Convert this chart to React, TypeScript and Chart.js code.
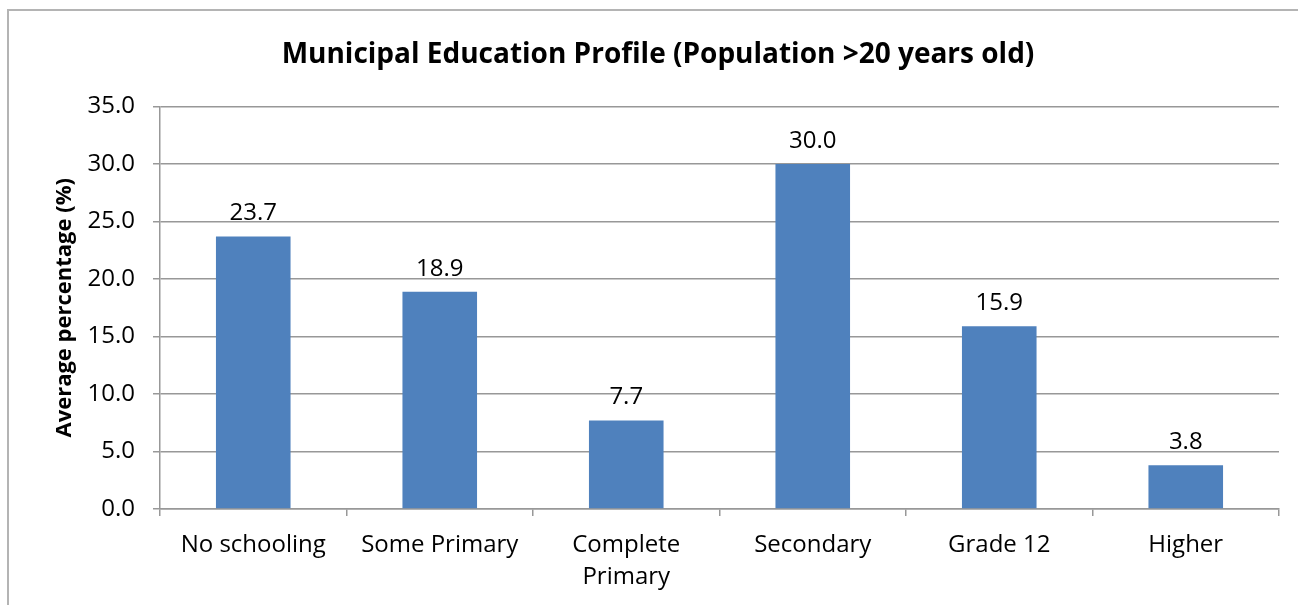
import React, { useEffect, useRef } from "react";
import { Chart, registerables } from "chart.js";

Chart.register(...registerables);

const categories: (string | string[])[] = [
  "No schooling",
  "Some Primary",
  ["Complete", "Primary"],
  "Secondary",
  "Grade 12",
  "Higher",
];
const values: number[] = [23.7, 18.9, 7.7, 30.0, 15.9, 3.8];
const yTicks: number[] = [0, 5, 10, 15, 20, 25, 30, 35];

const titleText = "Municipal Education Profile (Population >20 years old)";
const yTitleText = "Average percentage (%)";

const FONT = "'Open Sans', 'DejaVu Sans', sans-serif";
const W = 1316;
const H = 605;

export default function App() {
  const ref = useRef<HTMLCanvasElement | null>(null);

  useEffect(() => {
    if (!ref.current) return;

    const framePlugin = {
      id: "frame",
      beforeDraw(chart: any) {
        const c = chart.ctx;
        c.save();
        c.fillStyle = "#ffffff";
        c.fillRect(0, 0, chart.width, chart.height);
        c.strokeStyle = "#b4b4b4";
        c.lineWidth = 2;
        c.beginPath();
        c.moveTo(8, H);
        c.lineTo(8, 10);
        c.lineTo(W, 10);
        c.stroke();
        c.restore();
      },
    };

    const labelPlugin = {
      id: "valueLabels",
      afterDatasetsDraw(chart: any) {
        const c = chart.ctx;
        const meta = chart.getDatasetMeta(0);
        c.save();
        c.font = `24px ${FONT}`;
        c.fillStyle = "#000";
        c.textAlign = "center";
        c.textBaseline = "middle";
        meta.data.forEach((bar: any, i: number) => {
          c.fillText(values[i].toFixed(1), bar.x, bar.y - 23);
        });
        c.restore();
      },
    };

    const chart = new Chart(ref.current, {
      type: "bar",
      data: {
        labels: categories,
        datasets: [
          {
            data: values,
            backgroundColor: "#4f81bd",
            borderWidth: 0,
            barPercentage: 0.4,
            categoryPercentage: 1,
          },
        ],
      },
      options: {
        responsive: false,
        animation: false,
        layout: { padding: { left: 37, right: 37, top: 0, bottom: 0 } },
        plugins: {
          legend: { display: false },
          tooltip: { enabled: false },
          title: {
            display: true,
            text: titleText,
            color: "#000",
            font: { family: FONT, size: 28, weight: "bold" },
            padding: { top: 38, bottom: 35 },
          },
        },
        scales: {
          x: {
            offset: true,
            afterFit(scale: any) {
              scale.height = 96;
            },
            grid: {
              offset: true,
              drawOnChartArea: false,
              drawTicks: true,
              tickLength: 7,
              color: "#989898",
              lineWidth: 1.5,
            },
            border: { display: true, color: "#989898", width: 1.5 },
            ticks: {
              color: "#000",
              font: { family: FONT, size: 24, lineHeight: 1.35 },
              padding: 13,
              maxRotation: 0,
              autoSkip: false,
            },
          },
          y: {
            min: 0,
            max: 35,
            afterFit(scale: any) {
              scale.width = 123;
            },
            afterBuildTicks(scale: any) {
              scale.ticks = yTicks.map((v) => ({ value: v }));
            },
            grid: {
              color: "#989898",
              lineWidth: 1.5,
              drawTicks: true,
              tickLength: 7,
            },
            border: { display: true, color: "#989898", width: 1.5 },
            ticks: {
              color: "#000",
              font: { family: FONT, size: 24 },
              padding: 18,
              callback: (v: any) => Number(v).toFixed(1),
            },
            title: {
              display: true,
              text: yTitleText,
              color: "#000",
              font: { family: FONT, size: 22, weight: "bold" },
              padding: { top: 15, bottom: 0 },
            },
          },
        },
      },
      plugins: [framePlugin, labelPlugin],
    });

    return () => chart.destroy();
  }, []);

  return (
    <div
      style={{
        position: "fixed",
        left: 0,
        top: 0,
        width: 1298,
        height: 605,
        overflow: "hidden",
        background: "#fff",
      }}
    >
      <canvas
        ref={ref}
        width={W}
        height={H}
        style={{ width: W, height: H, display: "block" }}
      />
    </div>
  );
}
